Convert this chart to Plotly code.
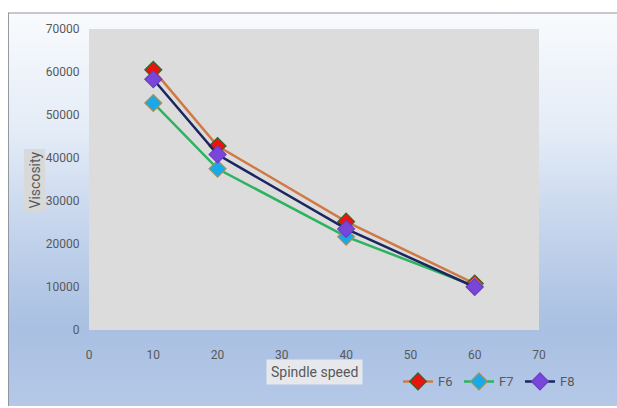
import base64
import plotly.graph_objects as go

speed = [10, 20, 40, 60]
f6 = [60500, 42800, 25200, 10800]
f7 = [52800, 37500, 21700, 10200]
f8 = [58300, 40800, 23500, 10000]

x_ticks = [0, 10, 20, 30, 40, 50, 60, 70]
y_ticks = [0, 10000, 20000, 30000, 40000, 50000, 60000, 70000]

W, H = 617, 408
L, R, T, B = 89, 78, 29, 69
pw, ph = W - L - R, H - T - B

FONT = "Liberation Sans Narrow, Arial Narrow, Roboto, sans-serif"

svg = (
    '<svg xmlns="http://www.w3.org/2000/svg" width="100" height="100" preserveAspectRatio="none">'
    '<defs><linearGradient id="g" x1="0" y1="0" x2="0" y2="1">'
    '<stop offset="0" stop-color="#f9fbfd"/>'
    '<stop offset="0.3" stop-color="#e4ecf7"/>'
    '<stop offset="0.6" stop-color="#bfd0ea"/>'
    '<stop offset="0.8" stop-color="#a9c0e2"/>'
    '<stop offset="1" stop-color="#b5c8e8"/>'
    '</linearGradient></defs>'
    '<rect width="100" height="100" fill="url(#g)"/>'
    '<line x1="0" y1="0" x2="100" y2="0" stroke="#8f959c" stroke-width="0.5"/>'
    '<line x1="0" y1="0" x2="0" y2="100" stroke="#8f959c" stroke-width="0.3"/>'
    '</svg>'
)
src = "data:image/svg+xml;base64," + base64.b64encode(svg.encode()).decode()

fig = go.Figure()

series = [
    ("F6", f6, "#cf7a45", "#e8150f", "#2f6a2a"),
    ("F7", f7, "#2bb35f", "#19a9e6", "#a8905a"),
    ("F8", f8, "#1b2660", "#7a45d9", "#6a3fc0"),
]
for name, ys, lc, mc, mb in series:
    fig.add_trace(go.Scatter(
        x=speed, y=ys, name=name, mode="lines+markers",
        line=dict(color=lc, width=2.5),
        marker=dict(symbol="diamond", size=13, color=mc, line=dict(color=mb, width=1.2)),
    ))

x0 = -(L - 8) / pw
y1 = 1 + (T - 12) / ph
fig.add_layout_image(dict(
    source=src, xref="paper", yref="paper", x=x0, y=y1,
    sizex=(W - 8) / pw + 0.05, sizey=(H - 12) / ph + 0.03,
    sizing="stretch", layer="below", xanchor="left", yanchor="top",
))

fig.add_shape(type="rect", xref="paper", yref="paper", x0=0, x1=1, y0=0, y1=1,
              fillcolor="#dcdcdc", line=dict(width=0), layer="below")

fig.add_annotation(
    text="Viscosity", xref="paper", yref="paper",
    x=-(L - 35) / pw, y=1 - (185 - T) / ph, textangle=-90,
    showarrow=False, bgcolor="#d9d9d9",
    font=dict(family=FONT, size=14, color="#595959"),
    xanchor="center", yanchor="middle", borderpad=2,
)
fig.add_annotation(
    text="Spindle speed", xref="paper", yref="paper",
    x=(314 - L) / pw, y=-(382 - T - ph) / ph,
    showarrow=False, bgcolor="#e6e8ec",
    font=dict(family=FONT, size=14, color="#595959"),
    xanchor="center", yanchor="middle", borderpad=4,
)

fig.update_layout(
    width=W, height=H,
    margin=dict(l=L, r=R, t=T, b=B),
    paper_bgcolor="white",
    plot_bgcolor="rgba(0,0,0,0)",
    font=dict(family=FONT, size=12, color="#595959"),
    showlegend=True,
    legend=dict(
        orientation="h", x=(398 - L) / pw, y=-(392 - T - ph) / ph,
        xanchor="left", yanchor="middle",
        bgcolor="rgba(0,0,0,0)", font=dict(family=FONT, size=13, color="#595959"),
        itemwidth=30, tracegroupgap=0, entrywidth=16, entrywidthmode="pixels",
    ),
    xaxis=dict(
        range=[0, 70], tickvals=x_ticks, tickformat="d", showgrid=False, zeroline=False,
        showline=False, ticks="outside", ticklen=14, tickcolor="rgba(0,0,0,0)",
    ),
    yaxis=dict(
        range=[0, 70000], tickvals=y_ticks, tickformat="d", showgrid=False, zeroline=False,
        showline=False, ticks="outside", ticklen=6, tickcolor="rgba(0,0,0,0)",
    ),
)

fig.write_html("out.html")
